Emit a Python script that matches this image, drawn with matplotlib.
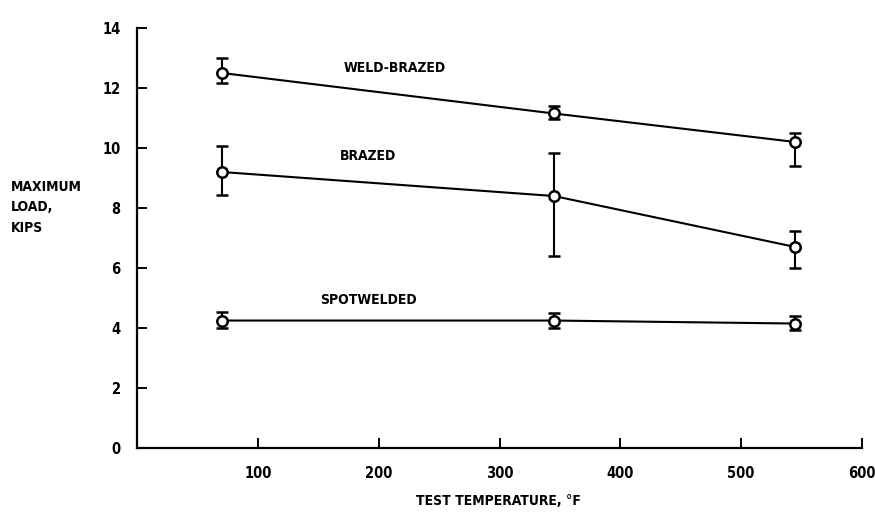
import matplotlib.pyplot as plt

# datos
temps = [70, 345, 545]

weld_brazed = [12.5, 11.15, 10.2]
weld_brazed_lo = [12.15, 10.95, 9.4]
weld_brazed_hi = [13.0, 11.4, 10.5]

brazed = [9.2, 8.4, 6.7]
brazed_lo = [8.45, 6.4, 6.0]
brazed_hi = [10.05, 9.85, 7.25]

spotwelded = [4.25, 4.25, 4.15]
spotwelded_lo = [4.0, 4.0, 3.95]
spotwelded_hi = [4.55, 4.5, 4.4]

x_ticks = [100, 200, 300, 400, 500, 600]
y_ticks = [0, 2, 4, 6, 8, 10, 12, 14]

font = dict(family='DejaVu Sans', fontstretch='condensed', fontweight='bold', fontsize=10)

fig = plt.figure(figsize=(8.75, 5.18), dpi=100)
ax = fig.add_axes([0.157, 0.135, 0.828, 0.811])

series = [
    (weld_brazed, weld_brazed_lo, weld_brazed_hi, 'WELD-BRAZED', 213, 12.65),
    (brazed, brazed_lo, brazed_hi, 'BRAZED', 191, 9.75),
    (spotwelded, spotwelded_lo, spotwelded_hi, 'SPOTWELDED', 191, 4.95),
]

for vals, lo, hi, name, tx, ty in series:
    err = [[v - l for v, l in zip(vals, lo)], [h - v for v, h in zip(vals, hi)]]
    ax.errorbar(temps, vals, yerr=err, color='black', lw=1.5, elinewidth=1.5,
                capsize=4, capthick=1.6, marker='o', markersize=7.5,
                markerfacecolor='white', markeredgecolor='black', markeredgewidth=1.8)
    ax.text(tx, ty, name, ha='center', va='center', **font)

ax.set_xlim(0, 600)
ax.set_ylim(0, 14)
ax.set_xticks(x_ticks)
ax.set_yticks(y_ticks)
for lbl in ax.get_xticklabels() + ax.get_yticklabels():
    lbl.set_fontfamily('DejaVu Sans')
    lbl.set_fontstretch('condensed')
    lbl.set_fontweight('bold')
    lbl.set_fontsize(10.5)
ax.tick_params(direction='in', length=7, width=1.4, pad=12)
ax.tick_params(axis='x', pad=13)

ax.spines['top'].set_visible(False)
ax.spines['right'].set_visible(False)
ax.spines['left'].set_linewidth(1.6)
ax.spines['bottom'].set_linewidth(1.6)

fig.text(0.012, 0.6, 'MAXIMUM\nLOAD,\nKIPS', ha='left', va='center',
         linespacing=1.6, **font)
fig.text(0.57, 0.033, 'TEST TEMPERATURE, °F', ha='center', va='center', **font)

plt.savefig('out.png', dpi=100)
